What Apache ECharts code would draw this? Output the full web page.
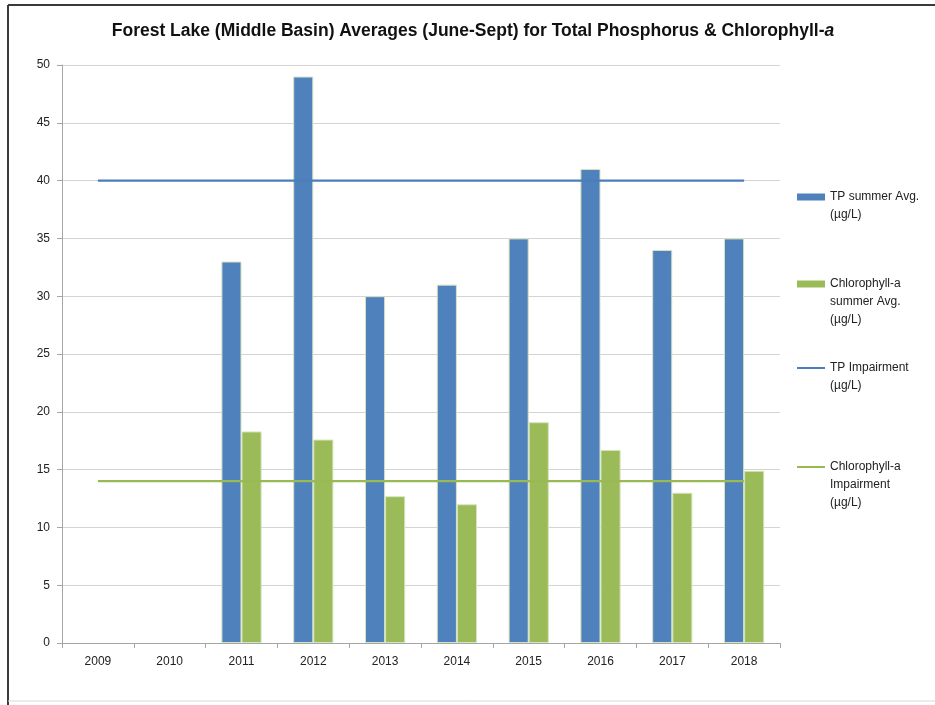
<!DOCTYPE html>
<html>
<head>
<meta charset="utf-8">
<script src="https://cdn.jsdelivr.net/npm/echarts@6/dist/echarts.min.js"></script>
<style>
  html, body { margin: 0; padding: 0; background: #fff; }
  #chart { width: 935px; height: 705px; }
</style>
</head>
<body>
<div id="chart"></div>
<script>
// data
var years = ['2009', '2010', '2011', '2012', '2013', '2014', '2015', '2016', '2017', '2018'];
var tpAvg = [null, null, 33, 49, 30, 31, 35, 41, 34, 35];
var chlAvg = [null, null, 18.3, 17.6, 12.7, 12.0, 19.1, 16.7, 13.0, 14.9];
var tpLimit = [40, 40, 40, 40, 40, 40, 40, 40, 40, 40];
var chlLimit = [14, 14, 14, 14, 14, 14, 14, 14, 14, 14];

var font = '"Liberation Sans", sans-serif';

var names = [
  'TP summer Avg.\n(µg/L)',
  'Chlorophyll-a\nsummer Avg.\n(µg/L)',
  'TP Impairment\n(µg/L)',
  'Chlorophyll-a\nImpairment\n(µg/L)'
];

// one legend per entry, so each can sit where the original has it.
// the text block is centred on the icon, so pad it with blank lines on top
// to get the first line level with the icon
function legendAt(name, iconY, isLine) {
  var lines = name.split('\n').length;
  var pad = '';
  for (var k = 1; k < lines; k++) pad += ' \n';
  var total = 2 * lines - 1;
  return {
    data: [{ name: name, icon: 'rect', itemStyle: { borderWidth: 0 } }],
    orient: 'vertical',
    left: 797,
    top: iconY - total * 9,
    padding: 0,
    itemWidth: 28,
    itemHeight: isLine ? 2 : 7,
    formatter: function (n) { return pad + n; },
    textStyle: { fontFamily: font, fontSize: 12, color: '#222', lineHeight: 18 }
  };
}

var myChart = echarts.init(document.getElementById('chart'));
var option = {
  backgroundColor: '#fff',
  animation: false,
  title: {
    text: 'Forest Lake (Middle Basin) Averages (June-Sept) for Total Phosphorus & Chlorophyll-{i|a}',
    left: 468,
    textAlign: 'center',
    top: 17,
    textStyle: {
      fontFamily: font, fontSize: 17.5, fontWeight: 'bold', color: '#111',
      rich: { i: { fontFamily: font, fontSize: 17.5, fontWeight: 'bold', fontStyle: 'italic', color: '#111' } }
    }
  },
  legend: [
    legendAt(names[0], 197, false),
    legendAt(names[1], 284, false),
    legendAt(names[2], 368, true),
    legendAt(names[3], 467, true)
  ],
  grid: { left: 62, top: 65, right: 155, bottom: 62 },
  xAxis: {
    type: 'category',
    data: years,
    axisLine: { lineStyle: { color: '#a6a6a6' } },
    axisTick: { show: true, interval: 0, length: 5, lineStyle: { color: '#a6a6a6' } },
    axisLabel: { fontFamily: font, fontSize: 12, color: '#222', margin: 13, interval: 0 }
  },
  yAxis: {
    type: 'value',
    min: 0, max: 50, interval: 5,
    axisLine: { show: true, lineStyle: { color: '#a6a6a6' } },
    axisTick: { show: true, length: 5, lineStyle: { color: '#a6a6a6' } },
    axisLabel: { fontFamily: font, fontSize: 12, color: '#222', margin: 12 },
    splitLine: { lineStyle: { color: '#d4d4d4', width: 1 } }
  },
  series: [
    {
      name: names[0], type: 'bar', data: tpAvg,
      barGap: '0%', barCategoryGap: '44%',
      itemStyle: { color: '#4f81bd', borderColor: '#d6e3c0', borderWidth: 1 }
    },
    {
      name: names[1], type: 'bar', data: chlAvg,
      itemStyle: { color: '#9bbb59', borderColor: '#d6e3c0', borderWidth: 1 }
    },
    {
      name: names[2], type: 'line', data: tpLimit, symbol: 'none', z: 5,
      lineStyle: { color: '#4a7ebb', width: 2.25 }, itemStyle: { color: '#4a7ebb' }
    },
    {
      name: names[3], type: 'line', data: chlLimit, symbol: 'none', z: 5,
      lineStyle: { color: '#98b954', width: 2.25 }, itemStyle: { color: '#98b954' }
    }
  ],
  graphic: [
    { type: 'line', shape: { x1: 8, y1: 5, x2: 935, y2: 5 }, style: { stroke: '#3a3a3a', lineWidth: 2 } },
    { type: 'line', shape: { x1: 8, y1: 5, x2: 8, y2: 705 }, style: { stroke: '#3a3a3a', lineWidth: 2 } },
    { type: 'line', shape: { x1: 8, y1: 701, x2: 935, y2: 701 }, style: { stroke: '#d8d8d8', lineWidth: 1 } }
  ]
};
myChart.setOption(option);
</script>
</body>
</html>
